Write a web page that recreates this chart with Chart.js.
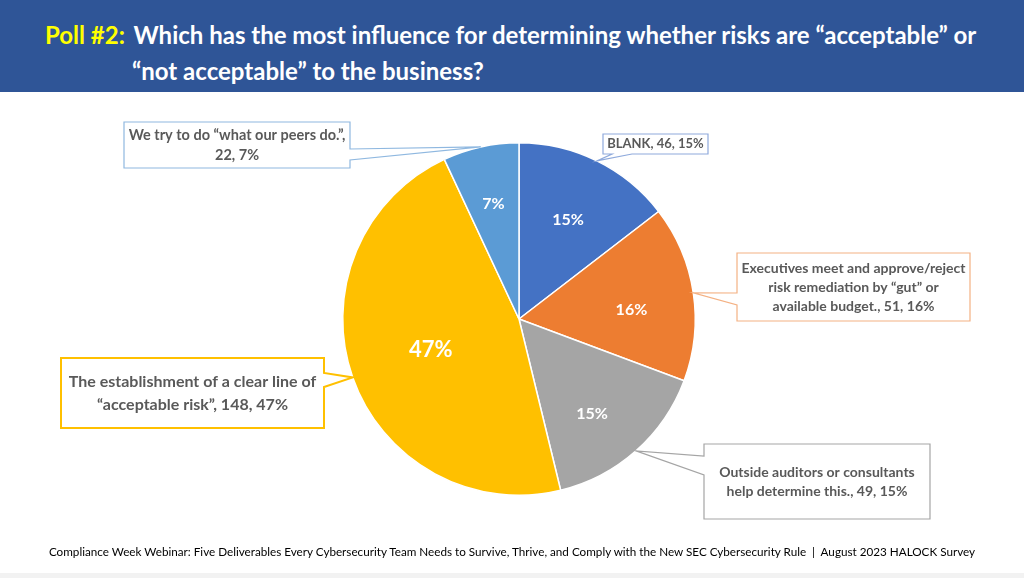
<!DOCTYPE html>
<html lang="en">
<head>
<meta charset="UTF-8">
<title>Poll #2</title>
<script src="https://cdn.jsdelivr.net/npm/chart.js"></script>
<style>
  html, body { margin: 0; padding: 0; background: #fff; }
  body { width: 1024px; height: 578px; position: relative; overflow: hidden; font-family: Lato, "Open Sans", sans-serif; }
  #header { position: absolute; left: 0; top: 0; width: 1024px; height: 92px; background: #2f5597; color: #fff; font-weight: bold; font-size: 24px; }
  #header .l1 { position: absolute; left: 45px; top: 20px; white-space: nowrap; }
  #header .l2 { position: absolute; left: 132px; top: 56px; white-space: nowrap; }
  #header .poll { color: #ffff00; margin-right: 3px; }
  #footer { position: absolute; left: 0; top: 544px; width: 1024px; text-align: center; font-size: 11.7px; color: #000; white-space: nowrap; }
  #strip { position: absolute; left: 0; top: 573px; width: 1024px; height: 5px; background: #f2f2f2; }
  #myChart { position: absolute; left: 0; top: 0; }
</style>
</head>
<body>
  <div id="header">
    <div class="l1"><span class="poll">Poll #2:</span> Which has the most influence for determining whether risks are “acceptable” or</div>
    <div class="l2">“not acceptable” to the business?</div>
  </div>
  <canvas id="myChart" width="1024" height="578"></canvas>
  <div id="footer">Compliance Week Webinar: Five Deliverables Every Cybersecurity Team Needs to Survive, Thrive, and Comply with the New SEC Cybersecurity Rule &nbsp;|&nbsp; August 2023 HALOCK Survey</div>
  <div id="strip"></div>

<script>
// data
const categories = [
  'BLANK',
  'Executives meet and approve/reject risk remediation by “gut” or available budget.',
  'Outside auditors or consultants help determine this.',
  'The establishment of a clear line of “acceptable risk”',
  'We try to do “what our peers do.”'
];
const votes = [46, 51, 49, 148, 22];
const percents = [15, 16, 15, 47, 7];

const sliceColors = ['#4472c4', '#ed7d31', '#a5a5a5', '#ffc000', '#5b9bd5'];
const calloutBorders = ['#8faadc', '#f4b183', '#a5a5a5', '#ffc000', '#8fb8e0'];

// callout boxes: x, y, w, h, side the pointer leaves from, pointer base (2 values along that side), wrap width, font size
const callouts = [
  { x: 603, y: 134, w: 105, h: 20, side: 'bottom', base: [612, 632], wrap: 200, fs: 13, lh: 18 },
  { x: 737, y: 253, w: 233, h: 68, side: 'left', base: [293, 305], wrap: 228, fs: 14, lh: 19 },
  { x: 704, y: 444, w: 226, h: 75, side: 'left', base: [456, 475], wrap: 205, fs: 14, lh: 19 },
  { x: 61, y: 358, w: 263, h: 70, side: 'right', base: [373, 387], wrap: 255, fs: 16, lh: 23 },
  { x: 124, y: 122, w: 226, h: 46, side: 'right', base: [149, 160], wrap: 224, fs: 14.5, lh: 20 }
];
// label radius (share of outer radius) and small angle nudge in degrees
const inLabelPos = [[0.63, 0], [0.64, 4], [0.68, 4], [0.53, 0], [0.67, 0]];

function wrapText(ctx, text, maxW) {
  const words = text.split(' ');
  const lines = [];
  let cur = '';
  words.forEach(w => {
    const t = cur ? cur + ' ' + w : w;
    if (ctx.measureText(t).width > maxW && cur) {
      lines.push(cur);
      cur = w;
    } else {
      cur = t;
    }
  });
  if (cur) lines.push(cur);
  return lines;
}

const labelPlugin = {
  id: 'labels',
  afterDatasetsDraw(chart) {
    const ctx = chart.ctx;
    const arcs = chart.getDatasetMeta(0).data;
    ctx.save();
    arcs.forEach((arc, i) => {
      const mid = (arc.startAngle + arc.endAngle) / 2;
      const r = arc.outerRadius;

      // percent inside the slice
      const a = mid + inLabelPos[i][1] * Math.PI / 180;
      const lr = r * inLabelPos[i][0];
      ctx.fillStyle = '#fff';
      ctx.font = 'bold ' + (i === 3 ? 22 : 16) + 'px Lato, "Open Sans", sans-serif';
      ctx.textAlign = 'center';
      ctx.textBaseline = 'middle';
      ctx.fillText(percents[i] + '%', arc.x + Math.cos(a) * lr, arc.y + Math.sin(a) * lr);

      // callout with wedge pointing at the slice edge
      const c = callouts[i];
      const tx = arc.x + Math.cos(mid) * r;
      const ty = arc.y + Math.sin(mid) * r;
      const x0 = c.x, y0 = c.y, x1 = c.x + c.w, y1 = c.y + c.h;
      ctx.beginPath();
      ctx.moveTo(x0, y0);
      if (c.side === 'right') {
        ctx.lineTo(x1, y0); ctx.lineTo(x1, c.base[0]); ctx.lineTo(tx, ty); ctx.lineTo(x1, c.base[1]);
        ctx.lineTo(x1, y1); ctx.lineTo(x0, y1);
      } else if (c.side === 'left') {
        ctx.lineTo(x1, y0); ctx.lineTo(x1, y1); ctx.lineTo(x0, y1);
        ctx.lineTo(x0, c.base[1]); ctx.lineTo(tx, ty); ctx.lineTo(x0, c.base[0]);
      } else {
        ctx.lineTo(x1, y0); ctx.lineTo(x1, y1); ctx.lineTo(c.base[1], y1); ctx.lineTo(tx, ty);
        ctx.lineTo(c.base[0], y1); ctx.lineTo(x0, y1);
      }
      ctx.closePath();
      ctx.fillStyle = '#fff';
      ctx.fill();
      ctx.strokeStyle = calloutBorders[i];
      ctx.lineWidth = i === 3 ? 2 : 1.2;
      ctx.stroke();

      ctx.font = 'bold ' + c.fs + 'px Lato, "Open Sans", sans-serif';
      ctx.fillStyle = '#595959';
      const text = categories[i] + ', ' + votes[i] + ', ' + percents[i] + '%';
      const lines = wrapText(ctx, text, c.wrap);
      const cy = c.y + c.h / 2 - (lines.length - 1) * c.lh / 2;
      lines.forEach((ln, k) => ctx.fillText(ln, c.x + c.w / 2, cy + k * c.lh));
    });
    ctx.restore();
  }
};

new Chart(document.getElementById('myChart').getContext('2d'), {
  type: 'pie',
  data: {
    labels: categories,
    datasets: [{
      data: votes,
      backgroundColor: sliceColors,
      borderColor: '#ffffff',
      borderWidth: 1.5
    }]
  },
  options: {
    responsive: false,
    animation: false,
    layout: { padding: { top: 142, bottom: 82, left: 14, right: 0 } },
    plugins: {
      legend: { display: false },
      tooltip: { enabled: false }
    }
  },
  plugins: [labelPlugin]
});
</script>
</body>
</html>
